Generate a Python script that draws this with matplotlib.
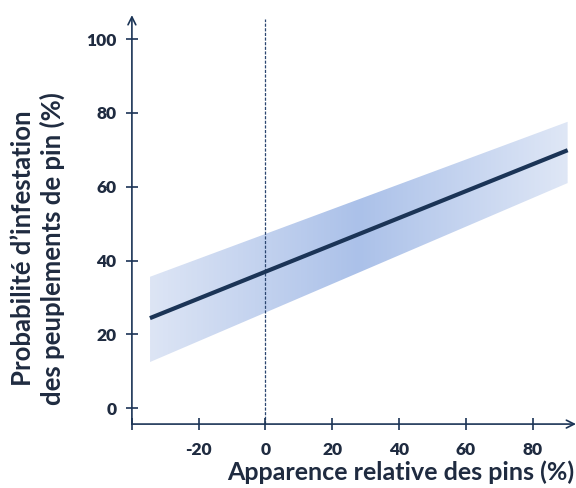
import numpy as np
import matplotlib.pyplot as plt
from matplotlib.colors import LinearSegmentedColormap

# regression line and confidence band
x_ends = [-34.6, 90.5]
y_fit = [24.4, 69.9]
y_low = [12.5, 61.0]
y_high = [35.6, 77.6]

x_ticks = [-20, 0, 20, 40, 60, 80]
y_ticks = [0, 20, 40, 60, 80, 100]

navy = "#1b3456"
text_col = "#1f2b40"

plt.rcParams["font.family"] = ["Lato", "DejaVu Sans"]
plt.rcParams["font.weight"] = "bold"
plt.rcParams["axes.unicode_minus"] = False

fig = plt.figure(figsize=(5.76, 4.88), dpi=100)
ax = fig.add_axes([0.229, 0.131, 0.771, 0.838])
xmin, xmax = -40, 93
ymin, ymax = -4.3, 106.5
ax.set_xlim(xmin, xmax)
ax.set_ylim(ymin, ymax)

# band with horizontal gradient, clipped to the band polygon
band = ax.fill_between(x_ends, y_low, y_high, facecolor="none", edgecolor="none")
cmap = LinearSegmentedColormap.from_list(
    "band", [(0.0, "#dde5f5"), (0.5, "#abc1e9"), (1.0, "#dfe7f6")])
grad = np.linspace(0, 1, 256).reshape(1, -1)
img = ax.imshow(grad, cmap=cmap, aspect="auto", origin="lower",
                extent=[x_ends[0], x_ends[1], min(y_low), max(y_high)], zorder=1)
img.set_clip_path(band.get_paths()[0], transform=ax.transData)

ax.plot(x_ends, y_fit, color=navy, lw=3.0, solid_capstyle="butt", zorder=3)

# dashed reference at x = 0
ax.plot([0, 0], [ymin, ymax - 1], color="#2b4670", lw=0.9,
        ls=(0, (2.5, 1.2)), zorder=2)

for s in ax.spines.values():
    s.set_visible(False)

# axes with arrows
ax.annotate("", xy=(xmax, ymin), xytext=(xmin, ymin),
            arrowprops=dict(arrowstyle="->", color=navy, lw=1.2,
                            mutation_scale=14, shrinkA=0, shrinkB=0),
            annotation_clip=False)
ax.annotate("", xy=(xmin, ymax), xytext=(xmin, ymin),
            arrowprops=dict(arrowstyle="->", color=navy, lw=1.2,
                            mutation_scale=14, shrinkA=0, shrinkB=0),
            annotation_clip=False)
# tick marks crossing the axes
ax.plot(x_ticks + [xmin], [ymin] * (len(x_ticks) + 1), ls="none", marker="|",
        ms=8, mew=1.2, color=navy, clip_on=False)
ax.plot([xmin] * len(y_ticks), y_ticks, ls="none", marker="_",
        ms=8, mew=1.2, color=navy, clip_on=False)

ax.set_xticks(x_ticks)
ax.set_yticks(y_ticks)
ax.tick_params(length=0, labelsize=12.5, labelcolor=text_col)
ax.tick_params(axis="x", pad=13)
ax.tick_params(axis="y", pad=11)
for lab in ax.get_xticklabels() + ax.get_yticklabels():
    lab.set_fontweight("heavy")

ax.set_xlabel("Apparence relative des pins (%)", fontsize=18,
              fontweight="bold", color=text_col)
ax.xaxis.set_label_coords(0.605, -0.088)
ax.set_ylabel("Probabilité d\u2019infestation\ndes peuplements de pin (%)",
              fontsize=18.5, fontweight="bold", color=text_col, linespacing=1.2)
ax.yaxis.set_label_coords(-0.151, 0.43)

fig.savefig("out.png", dpi=100)
